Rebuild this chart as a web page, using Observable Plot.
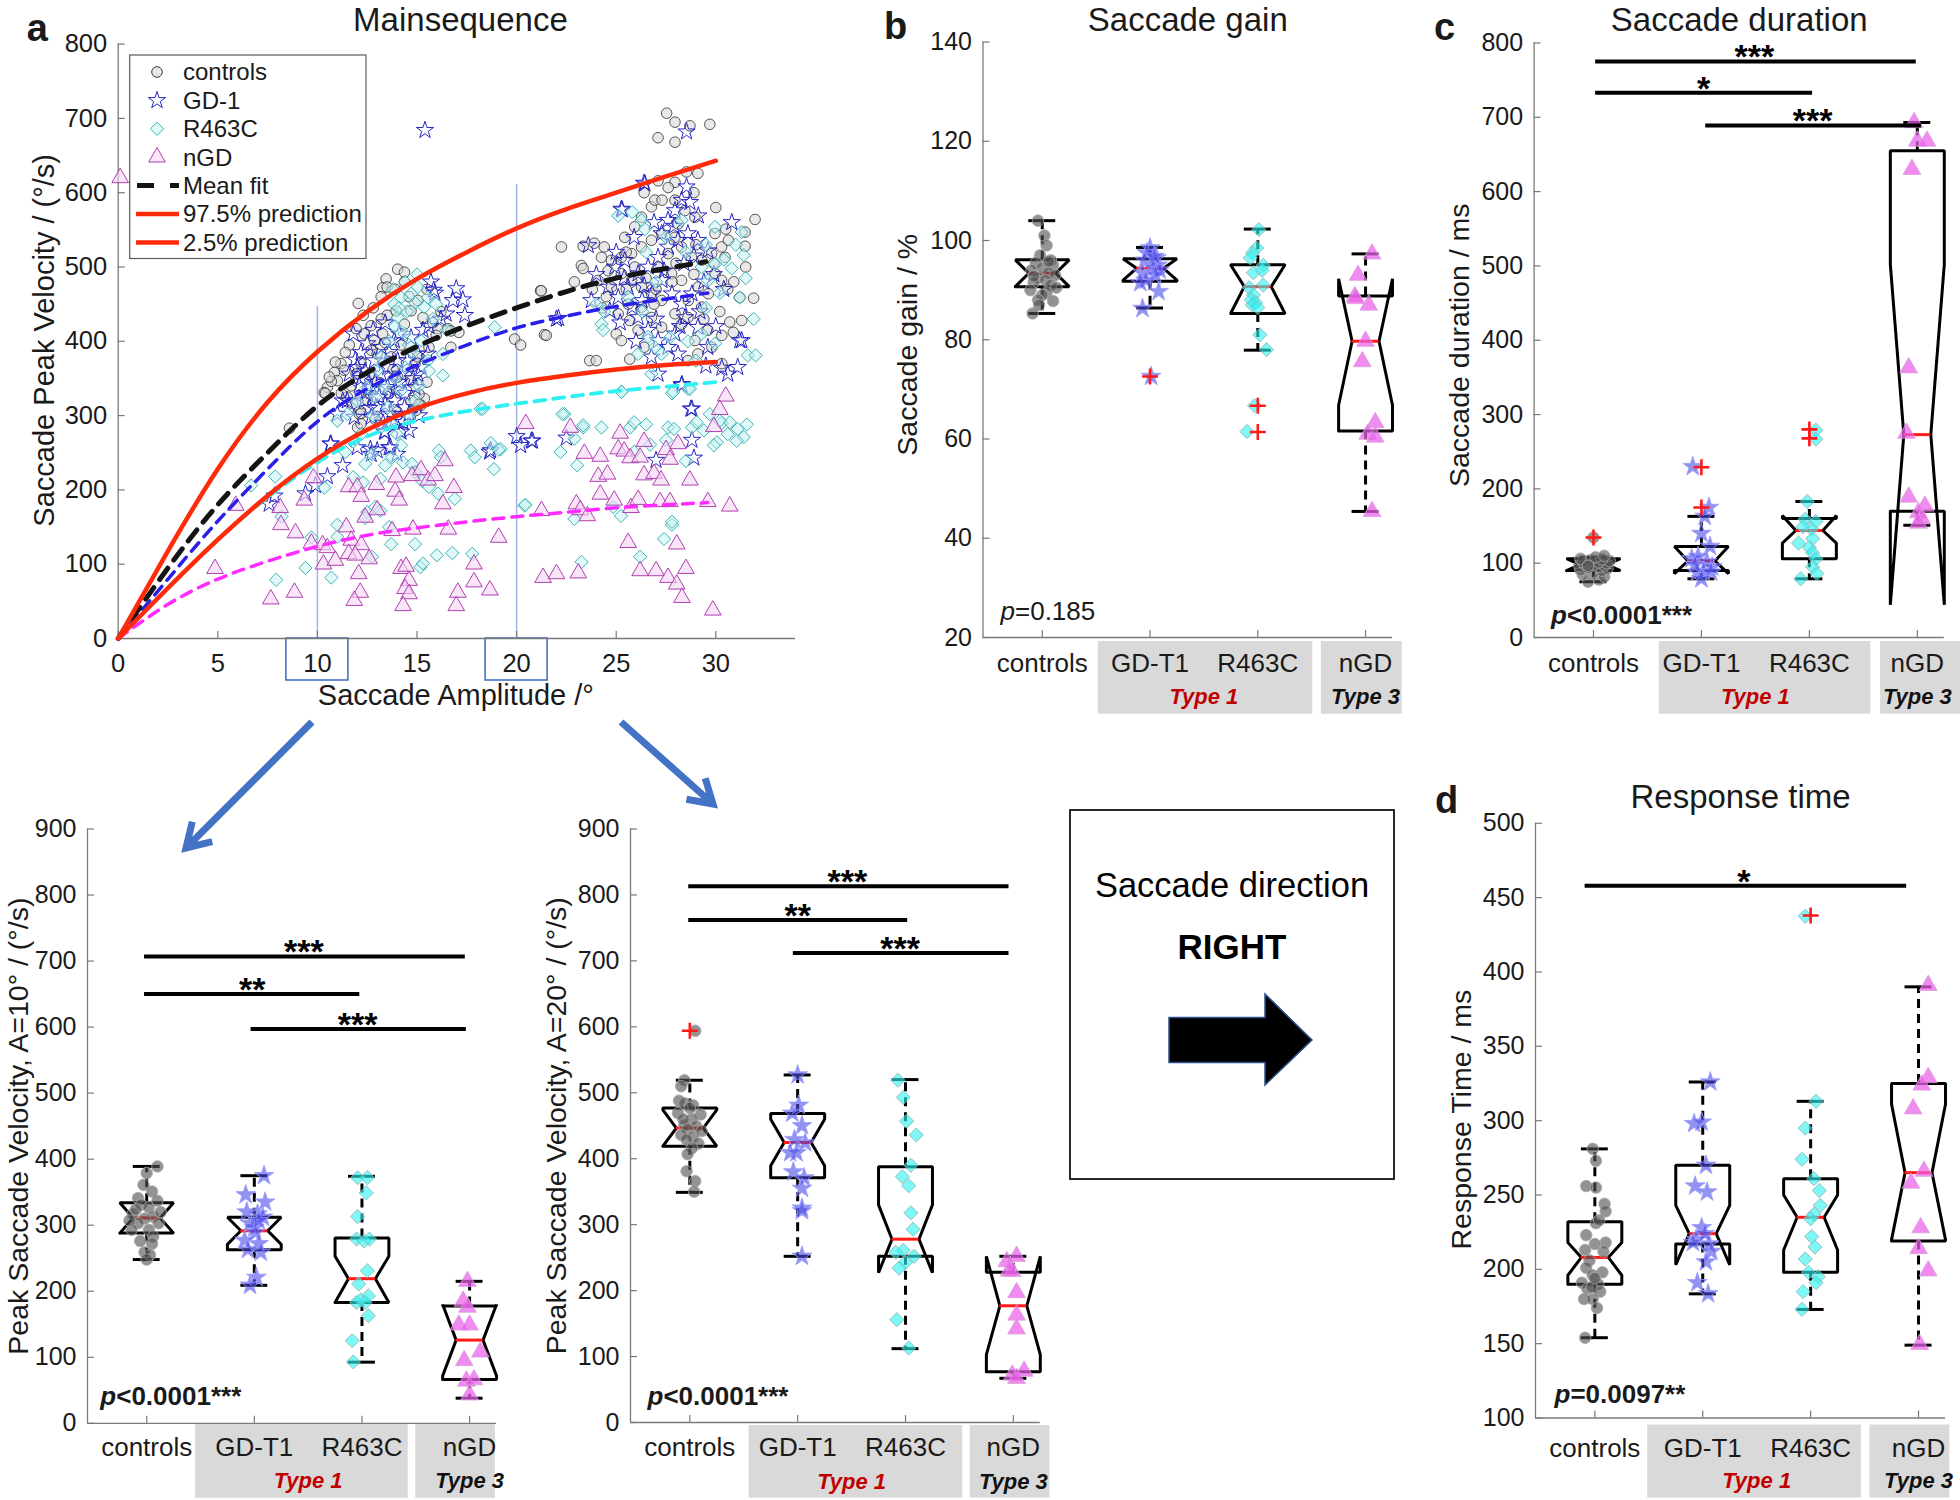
<!DOCTYPE html>
<html><head><meta charset="utf-8">
<script src="https://cdn.jsdelivr.net/npm/d3@7"></script>
<script src="https://cdn.jsdelivr.net/npm/@observablehq/plot@0.6"></script>
<style>
body{margin:0;background:#fff;}
#fig{position:relative;width:1960px;height:1500px;background:#fff;overflow:hidden;}
</style></head><body><div id="fig"></div>
<script>
// ================= DATA =================
const groups = ["controls", "GD-T1", "R463C", "nGD"];

// ---- Panel a: main sequence, [amplitude (deg), peak velocity (deg/s)] ----
const ampTicks = [0, 5, 10, 15, 20, 25, 30];
const velTicks = [0, 100, 200, 300, 400, 500, 600, 700, 800];
const ampMarkers = [[10, 447], [20, 611]];
const msControls = [[8.6,283],[12.05,451],[14.03,497],[14.37,493],[13.45,484],[13.28,472],[13.5,473],[14.37,480],[11.94,417],
[13.5,435],[13.2,430],[13.95,441],[12.7,421],[12.35,410],[12.86,401],[13.28,410],[15.3,432],[16.04,417],[16.55,417],[17.1,412],[16.7,392],[15.96,408],[15.6,392],
[11.18,370],[11.35,361],[10.85,358],[11.0,347],[10.5,338],[10.34,331],[11.94,356],[11.7,340],[12.19,370],[11.77,316],[12.1,302],[12.02,284],[12.19,289],
[15.37,323],[15.2,314],[14.95,307],[14.7,320],[15.1,329],[14.03,352],[14.7,347],[14.9,370],[12.7,388],[13.0,383],[13.7,379],[15.04,379],[14.37,423],[14.7,441],[15.04,455],
[15.1,315],[16.7,414],[19.9,403],[20.2,395],[21.2,468],[21.4,409],[12.5,321],[12.2,303],[10.7,346],[10.4,330],
[13.0,345],[13.6,330],[12.6,355],[14.2,395],[13.4,398],[11.5,325],[12.9,295],[14.0,305],[15.5,345],[13.8,362],
[11.6,395],[12.3,435],[12.8,445],[13.2,460],[13.9,470],[14.6,460],[15.5,470],[16.2,440],[15.8,425],[11.4,385],[10.9,372],[10.6,352],[11.2,330],
[27.53,707],[27.95,695],[28.7,690],[29.7,692],[27.1,674],[27.95,668],[28.53,628],[29.1,626],[27.95,614],[27.1,616],[31.97,564],[31.47,547],[31.47,528],[30.5,551],
[22.25,527],[23.34,528],[23.9,532],[24.4,527],[23.25,502],[23.34,498],[21.24,468],[21.49,408],
[31.2,459],[31.3,428],[30.7,426],[30.88,412],[30.3,408],[30.3,370],[23.67,374],[24.0,374],
[25.68,428],[25.0,410],[25.26,401],[25.68,376],[26.4,392],[26.1,415],[28.28,423],[28.95,401],[29.6,415],[29.8,392],[29.1,383],[28.6,374],
[24.26,513],[24.76,509],[25.26,513],[25.77,518],[26.27,527],[26.77,536],[27.28,545],[27.95,540],[28.28,527],[28.78,513],[29.29,509],[29.79,518],[30.29,527],[30.46,513],[29.96,491],[30.29,482],[29.62,464],[29.12,473],[28.62,455],[27.28,455],[26.77,464],[26.27,473],[25.77,482],[25.26,491],[24.76,473],[24.09,482],[24.59,495],[25.93,500],[25.43,540],[25.93,554],[26.27,567],[26.77,581],[27.61,607],[26.94,590],[27.95,590],[28.45,576],[28.95,567],[28.11,558],[29.96,545],[30.63,536],[27.61,518],[27.11,500],[27.78,491],[28.28,482],[26.27,446],[25.6,450],[25.1,437],[26.77,432],[27.28,419],[27.95,437],[28.6,432],[29.29,446],
[24.5,460],[25.5,470],[26.5,485],[27.0,470],[27.8,480],[28.9,490],[29.9,505],[30.9,480],[31.5,500],[30.2,440],[29.4,430],[26.9,450],[24.3,445],[23.8,470],[22.9,480],[28.0,505],[29.0,530],[30.0,580],[28.9,600],[27.3,590],[26.4,600],[25.5,520],[30.6,470],[31.9,458]];
const msGD1 = [[15.4,684],[28.53,682],[26.44,612],[28.53,608],[25.26,578],[28.7,587],[29.12,569],[30.8,560],[23.6,529],[22.0,430],[23.75,455],[24.68,441],[31.3,401],[31.1,365],[30.6,356],[29.5,367],[27.1,356],[28.28,341],[28.75,309],
[25.6,473],[26.1,491],[26.6,500],[27.1,513],[27.6,527],[28.1,536],[28.6,545],[29.1,536],[29.6,522],[27.3,482],[27.8,464],[28.3,450],[28.8,464],[26.8,464],[26.3,455],[25.8,446],[25.1,459],[24.6,473],[24.93,500],[25.43,509],[27.6,563],[27.95,576],[28.28,590],[27.28,545],[28.45,432],[27.95,410],[27.6,392],[28.1,383],[27.1,401],[26.6,415],[26.1,432],[29.1,419],[29.6,392],[26.77,379],
[25.3,577],[26.4,613],[22.1,431],
[24.0,490],[25.0,520],[25.9,540],[26.9,560],[27.9,555],[28.9,515],[29.9,490],[30.4,470],[29.4,480],[28.4,505],[27.4,495],[26.4,475],[25.4,485],[27.0,430],[28.2,420],[29.2,440],[30.0,420],[26.0,400],[25.2,425],
[15.7,480],[15.84,469],[16.97,471],[17.3,456],[17.4,435],[16.46,437],[15.54,383],[12.19,385],[11.6,356],[11.27,320],[11.0,302],[12.0,257],[10.68,262],[12.7,248],[13.36,278],[13.6,257],[14.0,248],[14.3,291],[18.64,251],[14.6,302],[15.04,383],
[12.5,397],[12.86,374],[13.2,356],[13.53,338],[13.86,320],[14.2,356],[14.5,374],[12.7,338],[12.35,320],[13.0,311],[13.7,302],[14.37,311],[14.9,338],[12.0,365],[15.04,356],[13.86,401],[13.53,365],[12.7,298],[11.85,298],[11.5,320],[13.2,392],[14.03,374],
[11.8,410],[12.2,350],[12.4,330],[12.9,345],[13.1,325],[13.4,315],[13.9,335],[14.1,345],[14.4,330],[14.8,350],[15.2,365],[12.6,310],[13.3,290],[13.9,295],[14.6,280],[15.1,300],[12.1,340],[13.6,385],[14.7,405],[15.3,415],[12.8,415],[13.4,425],[14.1,410],[11.9,375],[12.4,360],[15.6,420],[16.2,430],[16.8,455],[15.9,465],
[7.58,181],[7.85,192],[9.4,195],[9.9,206],[10.5,218],[11.27,233],[10.65,262],[12.66,255],[13.0,253],[13.67,257],[14.2,278],[13.4,278],[18.7,253],[20.0,272],[20.2,260],[20.8,266],
[28.3,342],[28.8,309],[28.8,267],[28.9,243],[27.0,240],[22.5,270],[20.74,266],[31.2,401],[30.3,364]];
const msR463C = [[14.2,459],[14.7,464],[15.04,473],[15.54,459],[15.96,450],[15.37,446],[13.86,450],[14.03,432],[14.37,410],[15.2,401],[15.54,374],[13.2,379],[13.0,361],[13.36,338],[14.2,334],[14.9,320],[13.53,311],[12.5,338],[12.0,320],[11.5,302],[11.0,293],[18.9,419],[16.3,383],[16.3,354],[18.2,309],[19.2,255],[14.5,440],[14.9,452],[13.9,420],[14.6,395],[12.8,300],[13.7,290],
[13.8,470],[14.4,480],[15.0,490],[14.1,445],[15.8,430],[16.5,415],[13.6,400],[14.8,385],[15.6,360],[14.4,365],[13.9,350],[15.1,340],[12.9,325],[14.6,300],[13.2,285],[12.2,275],[11.8,265],[14.0,275],
[6.67,206],[7.88,218],[8.2,164],[7.93,79],[9.4,95],[10.35,203],[10.7,82],[9.7,136],[11.0,153],[11.0,137],[11.4,251],[11.8,217],[12.3,210],[12.4,235],[12.74,248],[13.16,215],[13.4,233],[13.75,244],[14.2,260],[14.3,237],[14.75,235],[14.9,224],[15.26,212],[15.6,204],[16.1,253],[16.2,244],[16.06,195],[16.9,188],[17.7,253],[17.9,244],[18.7,263],[19.1,254],[18.86,228],[18.3,309],[12.5,170],[12.4,162],[12.9,177],[13.16,172],[13.6,150],[13.7,127],[14.9,127],[15.17,96],[15.3,101],[16.0,112],[16.77,115],[17.77,114],[12.74,110],[20.4,179],
[25.27,332],[27.8,330],[28.6,336],[22.4,302],[23.34,284],[22.9,269],[22.2,251],[23.04,233],[25.7,284],[25.9,291],[26.5,288],[27.6,284],[27.9,282],[26.7,261],[27.5,267],[25.9,251],[28.5,239],[28.8,284],[29.04,291],[29.4,280],[29.7,302],[30.3,290],[30.7,291],[31.1,282],[31.56,288],[31.4,271],[31.05,266],[30.6,275],[30.05,264],[29.9,260],[30.2,293],[20.44,180],[22.9,161],[23.26,103],[24.85,177],[25.24,165],[26.2,110],[27.4,134],[27.8,153],[27.8,157],
[25.1,569],[25.8,574],[26.27,563],[29.96,554],[31.3,547],[30.8,498],[31.2,459],[31.6,381],[24.26,423],[24.34,415],[26.44,551],[28.28,563],[29.29,500],[29.96,504],[29.62,482],[26.6,406],[26.94,392],[27.28,383],[26.1,383],[29.29,410],[29.96,397],[29.0,374],[26.77,356],[25.26,332],[27.86,332],[28.7,336],[22.3,302],[23.34,287],[24.26,284],[32.0,381],[31.4,516],
[24.4,440],[25.6,460],[26.5,520],[27.5,540],[28.5,520],[29.5,530],[30.4,510],[31.0,530],[30.2,465],[29.5,445],[28.6,400],[27.7,405],[26.3,440],[27.0,480],[24.0,450],[31.5,485],[31.9,430]];
const msNGD = [[0.1,620],[4.86,94],[5.9,179],[7.66,53],[8.85,62],[8.13,176],[8.17,153],[8.9,142],[9.34,186],[9.8,216],[9.7,128],[10.26,126],[10.5,122],[10.3,100],[10.9,105],[11.45,150],[11.7,132],[12.2,126],[11.57,114],[11.9,112],[12.6,107],[11.57,204],[12.0,204],[12.2,191],[12.96,207],[12.07,87],[12.15,62],[11.85,51],[12.4,163],[13.0,173],[13.95,217],[13.9,198],[14.1,186],[13.75,145],[14.2,94],[14.45,97],[14.6,78],[14.4,67],[14.6,60],[14.3,44],[14.8,147],[14.75,219],[15.2,227],[15.56,213],[15.9,219],[16.4,239],[16.3,181],[16.85,203],[16.57,147],[17.05,62],[16.97,44],[17.86,100],[17.86,76],[18.66,65],[19.1,136],[20.46,289],
[30.5,326],[30.2,308],[29.9,285],[22.7,284],[23.4,249],[24.2,245],[24.1,218],[24.56,221],[24.2,194],[25.2,276],[25.1,255],[25.4,252],[25.7,243],[26.2,244],[26.4,265],[26.4,220],[26.9,222],[27.25,213],[27.5,254],[27.7,241],[28.1,262],[28.7,213],
[21.25,172],[23.0,181],[23.2,173],[23.55,165],[24.9,186],[25.74,176],[26.1,187],[27.2,184],[27.7,184],[29.6,184],[30.7,178],[25.6,129],[28.04,127],[21.33,82],[22.0,87],[23.1,88],[26.2,91],[27.0,91],[27.6,82],[28.04,73],[28.5,94],[28.3,55],[29.85,38]];
const fitMean = [[0,0],[2.5,95],[5,180],[7.5,250],[10,313],[12.5,358],[15,393],[17.5,421],[20,445],[22.5,467],[25,485],[27.5,498],[29.5,507]];
const fitGD1 = [[0,0],[2.5,80],[5,158],[7.5,228],[10,292],[12.5,336],[15,368],[17.5,395],[20,418],[22.5,434],[25,447],[27.5,457],[29.6,465]];
const fitR463C = [[0,0],[2.5,68],[5,133],[7.5,190],[10,237],[12.5,272],[15,293],[17.5,306],[20,316],[22.5,325],[25,333],[27.5,339],[30,345]];
const fitNGD = [[0,0],[2.5,46],[5,80],[7.5,104],[10,124],[12.5,139],[15,149],[17.5,157],[20,164],[22.5,170],[25,176],[27.5,180],[29.6,183]];
const pred975 = [[0,0],[2.5,118],[5,228],[7.5,318],[10,386],[12.5,440],[15,484],[17.5,520],[20,552],[22.5,578],[25,600],[27.5,622],[30,643]];
const pred025 = [[0,0],[2.5,68],[5,133],[7.5,192],[10,242],[12.5,281],[15,310],[17.5,330],[20,344],[22.5,354],[25,362],[27.5,368],[30,372]];

// ---- Box panels: per group [q1, median, q3, notchLo, notchHi, whiskerLo, whiskerHi] ----
// points: [group, jitter, value]; outliers: [group, value]; significance: [from, to, level, stars, starX]
const gainTicks = [20, 40, 60, 80, 100, 120, 140];
const gainBox = [[90.7,93.4,96.1,90.7,96.1,85.3,104],[91.8,94.4,96.3,92.0,96.3,86.4,98.6],[85.3,90.7,95.1,85.4,95.0,77.9,102.3],[61.6,79.7,88.8,66.8,92.3,45.4,97.3]];
const gainPts = [[1,-0.04,104],[1,0.02,101],[1,0.04,99],[1,-0.02,97],[1,0.08,96],[1,-0.06,95.5],[1,0.1,95],[1,0,94.5],[1,-0.1,94],[1,0.06,93.5],[1,0.12,93],[1,-0.04,92.5],[1,0.03,92],[1,-0.08,91.5],[1,0.08,91],[1,0.13,90.5],[1,-0.11,90],[1,0.04,89.5],[1,0,89],[1,-0.04,88],[1,0.1,87.8],[1,-0.03,87],[1,-0.09,85.3],[1,0.06,95.8],[1,-0.08,92.8],
[2,0,98.5],[2,-0.03,97.5],[2,0.06,96.5],[2,-0.05,96],[2,0.07,95],[2,0.03,94.5],[2,0.09,94],[2,-0.07,93.5],[2,0.05,93],[2,-0.04,92],[2,-0.09,91.5],[2,0.08,89.7],[2,-0.07,86.3],[2,0.01,72.6],[2,0.04,96.8],
[3,0.01,102.2],[3,-0.01,98.5],[3,-0.05,97.5],[3,-0.07,96.5],[3,0.05,95],[3,-0.04,93.5],[3,0.04,94],[3,0.05,91],[3,-0.08,90.5],[3,-0.04,89],[3,-0.06,88],[3,-0.02,87.5],[3,-0.05,87],[3,0.02,81],[3,0.08,78],[3,-0.03,66.7],[3,-0.1,61.5],[3,0,86.5],
[4,0.06,97.3],[4,-0.07,93],[4,-0.1,88.7],[4,-0.09,88.3],[4,0.03,87],[4,0,79.7],[4,-0.03,75.6],[4,0.09,63.3],[4,0.02,61],[4,0.09,60.4],[4,0.06,45.4]];
const gainOut = [[2,72.6],[3,66.7],[3,61.4]];
const gainSig = [];

const durTicks = [0, 100, 200, 300, 400, 500, 600, 700, 800];
const durBox = [[90,98,106,90,106,75,108],[90,103,122.5,86,122.5,79,163],[106,144,160,127,164,79,183],[170,273,655,44,502,151,693]];
const durPts = [[1,-0.05,75],[1,0.05,78],[1,0.1,82],[1,-0.1,85],[1,0,88],[1,0.08,90],[1,-0.12,91],[1,0.13,93],[1,-0.05,94],[1,0.05,95],[1,-0.13,96],[1,0.1,97],[1,0,98],[1,-0.08,99],[1,0.12,100],[1,0.05,101],[1,-0.1,102],[1,0.15,103],[1,-0.03,104],[1,0.08,105],[1,-0.12,106],[1,0.02,108],[1,0.1,110],[1,-0.05,96.5],[1,0,134.6],
[2,-0.08,230],[2,0.07,175],[2,0.03,163],[2,0,140],[2,0.08,122.5],[2,-0.09,106],[2,-0.03,109],[2,0.05,102],[2,0.1,95],[2,0.02,89],[2,-0.04,88],[2,0.09,88],[2,0,79],[2,-0.06,98],
[3,0.06,279],[3,0.06,267],[3,-0.02,183],[3,-0.04,159],[3,0.06,156],[3,0.02,146],[3,-0.06,149],[3,0.03,133],[3,-0.1,127],[3,0,121],[3,0.03,114],[3,0.06,106],[3,0.03,95],[3,0.07,86],[3,-0.08,79],
[4,-0.03,693],[4,0,668],[4,0.09,668],[4,-0.05,630],[4,-0.08,363],[4,-0.1,275],[4,-0.08,189],[4,0.07,177],[4,0.01,168],[4,0.04,160],[4,0.01,154]];
const durOut = [[1,134.6],[2,229],[2,175],[3,280],[3,268]];
const durSig = [[1.02,3.99,775,"***",2.49],[1.02,3.03,733,"*",2.02],[2.04,4.04,689,"***",3.03]];

const v10Ticks = [0, 100, 200, 300, 400, 500, 600, 700, 800, 900];
const v10Box = [[288,311,334,288,334,248,389],[263,291.5,312,271,312,209,375],[183,219,280.6,183,253,92.6,374],[66.5,126,177.7,72,180,38,215]];
const v10Pts = [[1,0.1,389],[1,0,379],[1,-0.03,361],[1,0.05,351],[1,-0.08,341],[1,0.1,337],[1,-0.05,331],[1,0.02,327],[1,-0.13,317],[1,0.06,313],[1,-0.02,310],[1,-0.08,303],[1,0.11,303],[1,-0.14,293],[1,0.02,293],[1,0.06,283],[1,-0.06,276],[1,0.05,272],[1,-0.02,259],[1,0.03,255],[1,0,248],[1,-0.1,324],[1,0.13,320],[1,-0.16,307],
[2,0.09,375],[2,-0.08,346],[2,0.1,335],[2,-0.07,320],[2,0.03,317],[2,0.08,312],[2,0,296],[2,-0.04,303],[2,0.01,289],[2,-0.09,277],[2,0.04,272],[2,-0.06,263],[2,0.06,259],[2,0.02,221],[2,-0.04,209],[2,0.04,307],
[3,-0.04,372],[3,0.05,372],[3,0.04,349],[3,-0.04,313],[3,-0.05,279],[3,0.02,276],[3,0.07,279],[3,0.05,231],[3,-0.03,211],[3,0.06,193],[3,-0.01,187],[3,-0.05,183],[3,0.06,163],[3,-0.09,125],[3,-0.08,93],[3,0.03,183],
[4,-0.02,215],[4,-0.06,185],[4,-0.02,176],[4,-0.1,149],[4,0,149],[4,0.1,108],[4,-0.05,95],[4,-0.03,64],[4,0.04,66],[4,0,43]];
const v10Out = [];
const v10Sig = [[0.98,3.96,707,"***",2.46],[0.98,2.98,650,"**",1.98],[1.97,3.97,597,"***",2.96]];

const v20Ticks = [0, 100, 200, 300, 400, 500, 600, 700, 800, 900];
const v20Box = [[419,446.5,477,419,474,349,519],[371,424.6,468.5,389.5,460,252,527],[252,278,388,227,330,112,520],[77,177,228,103,252,67,252]];
const v20Pts = [[1,0.05,594],[1,-0.05,519],[1,-0.08,510],[1,-0.1,488],[1,-0.05,484],[1,0.03,481],[1,0,477],[1,0.1,467],[1,-0.11,469],[1,0.02,460],[1,-0.05,451],[1,0.06,449],[1,-0.02,445],[1,-0.08,436],[1,0.03,433],[1,-0.03,429],[1,0.08,423],[1,0.02,416],[1,-0.02,407],[1,-0.03,381],[1,0.05,366],[1,0.04,350],[1,-0.06,460],[1,0.11,442],
[2,0,527],[2,0.01,481],[2,-0.05,469],[2,0.04,450],[2,-0.03,429],[2,0.07,424],[2,-0.07,409],[2,-0.01,409],[2,-0.04,380],[2,0.06,371],[2,0.04,355],[2,0.04,325],[2,0.04,321],[2,0.04,252],
[3,-0.07,519],[3,-0.02,493],[3,0.01,457],[3,0.1,436],[3,0.05,390],[3,-0.03,373],[3,0.03,359],[3,0.05,318],[3,0.07,293],[3,-0.02,261],[3,0.08,252],[3,-0.09,258],[3,0,243],[3,-0.06,234],[3,-0.08,156],[3,0.03,113],
[4,0.03,252],[4,-0.06,244],[4,-0.01,229],[4,0.03,197],[4,0.03,163],[4,0.03,142],[4,-0.01,72],[4,0.1,78],[4,0.03,67],[4,-0.04,230]];
const v20Out = [[1,594]];
const v20Sig = [[0.99,3.96,813,"***",2.46],[0.99,3.02,762,"**",2.0],[1.96,3.96,712,"***",2.95]];

const rtTicks = [100, 150, 200, 250, 300, 350, 400, 450, 500];
const rtBox = [[190,208,232,196,218,154,281],[217,224,270,203,243,183.5,326],[198,235,261,213,250,173,313],[219,265,325,220,311,149,390]];
const rtPts = [[1,-0.02,281],[1,0.01,273],[1,-0.08,256],[1,0.01,255],[1,0.09,244],[1,0.1,239],[1,0.01,231],[1,0.04,233],[1,-0.08,223],[1,0.1,218],[1,0,217],[1,-0.09,213],[1,0.08,212],[1,-0.05,206],[1,-0.08,201],[1,0.07,198],[1,-0.02,196],[1,-0.12,191],[1,0.03,190],[1,-0.07,187],[1,0.05,185],[1,-0.1,180],[1,-0.02,180],[1,0.02,174],[1,-0.09,154],[1,-0.03,188],[1,0,194],
[2,0.07,326],[2,-0.08,298],[2,-0.01,299],[2,0.03,270],[2,-0.07,256],[2,0.04,252],[2,-0.01,228],[2,-0.06,220],[2,0.06,217],[2,0.08,212],[2,0.03,205],[2,-0.05,191],[2,0.05,183.5],[2,-0.09,218],[2,0.02,224],
[3,-0.05,437.5],[3,0.05,313],[3,-0.05,295],[3,-0.08,274],[3,0.03,261],[3,0.08,253],[3,0.09,243],[3,0.03,237],[3,0,234],[3,0.01,222],[3,0.04,215],[3,-0.05,207],[3,-0.02,198],[3,0.07,195],[3,0.05,191],[3,-0.07,185],[3,-0.08,173],
[4,0.09,391],[4,0.09,329],[4,0.03,324],[4,-0.05,308],[4,0.05,266],[4,-0.07,258],[4,0.02,228],[4,0,214],[4,0.09,199],[4,0.01,149.5]];
const rtOut = [[3,438]];
const rtSig = [[0.91,3.89,458,"*",2.38]];

// ================= STYLE / LAYOUT =================
const FONT = '"Liberation Sans", Arial, Helvetica, sans-serif';
const TXT = "#1a1a1a", AXIS = "#7a7a7a";
const boxSym = [
  {symbol: "circle", fill: "#505050", fillOpacity: 0.62, stroke: "#a8a8a8", r: 5.8},
  {symbol: "star", fill: "#4a4ae8", fillOpacity: 0.6, stroke: "#9a9aff", r: 6.2},
  {symbol: "diamond2", fill: "#2ef2f2", fillOpacity: 0.62, stroke: "#8fb0b0", r: 6.4},
  {symbol: "triangle", fill: "#ea5fea", fillOpacity: 0.72, stroke: "#dca0dc", r: 6.6}
];
const msSym = [
  {symbol: "circle", fill: "#d5d5d5", fillOpacity: 0.55, stroke: "#383838", strokeOpacity: 0.85, r: 5.3},
  {symbol: "star", fill: "none", stroke: "#2424c4", r: 5.4},
  {symbol: "diamond2", fill: "#c4f2f2", fillOpacity: 0.5, stroke: "#3db4b4", r: 6},
  {symbol: "triangle", fill: "#f3d3f3", fillOpacity: 0.6, stroke: "#b040b0", r: 6.2}
];
const fig = document.getElementById("fig");

function place(svg, left, top) {
  svg.style.position = "absolute";
  svg.style.left = left + "px";
  svg.style.top = top + "px";
  svg.style.background = "transparent";
  svg.style.maxWidth = "none";
  fig.appendChild(svg);
}
const txt = (s, o) => Plot.text([s], {text: d => d, fill: TXT, textAnchor: "middle", lineAnchor: "middle", ...o});

function boxPanel(o, box, pts, outl, sig, ticks) {
  const X0 = 0.45, X1 = 4.25;
  const [Y0, Y1] = o.yDomain;
  const fw = o.width - o.mL - o.mR, fh = o.height - o.mT - o.mB;
  const pxX = fw / (X1 - X0), pxY = fh / (Y1 - Y0);
  const below = px => Y0 - px / pxY;
  const BW = 0.5, IN = BW / 4, CAP = BW / 4;
  const B = box.map((b, i) => ({g: i + 1, q1: b[0], med: b[1], q3: b[2], nlo: b[3], nhi: b[4], wlo: b[5], whi: b[6]}));
  const outline = B.flatMap(b => {
    const L = b.g - BW / 2, R = b.g + BW / 2;
    return [[L,b.q1],[L,b.nlo],[L+IN,b.med],[L,b.nhi],[L,b.q3],[R,b.q3],[R,b.nhi],[R-IN,b.med],[R,b.nlo],[R,b.q1],[L,b.q1]]
      .map(([x, y]) => ({g: b.g, x, y}));
  });
  const marks = [
    Plot.rect(o.gray, {x1: d => d[0], x2: d => d[1], y1: () => below(o.grayTop), y2: () => below(o.grayBot), fill: "#d9d9d9"}),
    Plot.ruleX([X0], {stroke: AXIS, strokeWidth: 1.3}),
    Plot.ruleY([Y0], {stroke: AXIS, strokeWidth: 1.3}),
    Plot.ruleY(ticks, {x1: () => X0, x2: () => X0 + 7 / pxX, stroke: AXIS, strokeWidth: 1.2}),
    Plot.ruleX([1, 2, 3, 4], {y1: () => Y0, y2: () => Y0 + 7 / pxY, stroke: AXIS, strokeWidth: 1.2}),
    Plot.text(ticks, {x: () => X0, y: d => d, text: d => String(d), textAnchor: "end", dx: -11, fontSize: 25, fill: TXT}),
    Plot.text(groups, {x: (d, i) => i + 1, y: () => Y0, dy: o.catDy, text: d => d, fontSize: 26, fill: TXT}),
    Plot.text(["Type 1"], {x: () => 2.5, y: () => Y0, dy: o.typeDy, text: d => d, fontSize: 22, fontWeight: "bold", fontStyle: "italic", fill: "#c00000"}),
    Plot.text(["Type 3"], {x: () => 4, y: () => Y0, dy: o.typeDy, text: d => d, fontSize: 22, fontWeight: "bold", fontStyle: "italic", fill: "#111"}),
    Plot.ruleX(B, {x: "g", y1: "q3", y2: "whi", stroke: "#000", strokeWidth: 3, strokeDasharray: "9,6"}),
    Plot.ruleX(B, {x: "g", y1: "q1", y2: "wlo", stroke: "#000", strokeWidth: 3, strokeDasharray: "9,6"}),
    Plot.ruleY(B, {y: "whi", x1: d => d.g - CAP, x2: d => d.g + CAP, stroke: "#000", strokeWidth: 3}),
    Plot.ruleY(B, {y: "wlo", x1: d => d.g - CAP, x2: d => d.g + CAP, stroke: "#000", strokeWidth: 3}),
    Plot.line(outline, {x: "x", y: "y", z: "g", stroke: "#000", strokeWidth: 3, strokeLinejoin: "miter"}),
    Plot.ruleY(B, {y: "med", x1: d => d.g - BW / 2 + IN, x2: d => d.g + BW / 2 - IN, stroke: "#ff1a1a", strokeWidth: 3}),
  ];
  boxSym.forEach((s, gi) => {
    marks.push(Plot.dot(pts.filter(p => p[0] === gi + 1), {x: p => p[0] + p[1], y: p => p[2], strokeWidth: 0.8, ...s}));
  });
  marks.push(Plot.dot(outl, {x: d => d[0], y: d => d[1], symbol: "plus", stroke: "#ff1a1a", strokeWidth: 2.6, r: 5.2}));
  marks.push(Plot.ruleY(sig, {y: d => d[2], x1: d => d[0], x2: d => d[1], stroke: "#000", strokeWidth: 4}));
  marks.push(Plot.text(sig, {x: d => d[4], y: d => d[2], text: d => d[3], fontSize: 34, fontWeight: "bold", dy: o.starDy, fill: "#000"}));
  const pw = o.p.bold ? 15.9 : 14.5;
  marks.push(txt("p", {frameAnchor: "bottom-left", dx: o.p.dx, dy: o.p.dy, textAnchor: "start", fontSize: 26, fontStyle: "italic", fontWeight: o.p.bold ? "bold" : "normal"}));
  marks.push(txt(o.p.rest, {frameAnchor: "bottom-left", dx: o.p.dx + pw, dy: o.p.dy, textAnchor: "start", fontSize: 26, fontWeight: o.p.bold ? "bold" : "normal"}));
  marks.push(txt(o.ylabel, {frameAnchor: "left", rotate: -90, dx: o.ylabelDx, dy: o.ylabelDy, fontSize: 28.5}));
  if (o.title) marks.push(txt(o.title, {frameAnchor: "top", dy: o.titleDy, fontSize: 33}));
  if (o.letter) marks.push(txt(o.letter, {frameAnchor: "top-left", dx: o.letterDx, dy: o.letterDy, fontSize: 38, fontWeight: "bold"}));
  const svg = Plot.plot({
    width: o.width, height: o.height,
    marginLeft: o.mL, marginRight: o.mR, marginTop: o.mT, marginBottom: o.mB,
    x: {domain: [X0, X1], axis: null},
    y: {domain: [Y0, Y1], axis: null},
    style: {fontFamily: FONT, background: "transparent", overflow: "visible"},
    marks
  });
  place(svg, o.left, o.top);
}

function panelA() {
  const o = {left: 0, top: 0, width: 840, height: 730, mL: 117.7, mT: 43.6, mR: 45, mB: 92};
  const X0 = 0, X1 = 34, Y0 = 0, Y1 = 800;
  const fw = o.width - o.mL - o.mR, fh = o.height - o.mT - o.mB;
  const pxX = fw / (X1 - X0), pxY = fh / (Y1 - Y0);
  const hl = [10, 20];
  const series = [msControls, msGD1, msR463C, msNGD];
  const ln = (data, stroke, w, dash) => Plot.line(data, {x: d => d[0], y: d => d[1], stroke, strokeWidth: w, strokeDasharray: dash, curve: "natural"});
  const marks = [
    Plot.rect(hl, {x1: d => d - 31 / pxX, x2: d => d + 31 / pxX, y1: () => 0, y2: () => -42 / pxY, stroke: "#4472c4", strokeWidth: 1.6, fill: "none"}),
    Plot.ruleX(ampMarkers, {x: d => d[0], y1: () => 0, y2: d => d[1], stroke: "#9fb6e3", strokeWidth: 1.5}),
    Plot.ruleX([X0], {stroke: AXIS, strokeWidth: 1.3}),
    Plot.ruleY([Y0], {stroke: AXIS, strokeWidth: 1.3}),
    Plot.ruleY(velTicks, {x1: () => X0, x2: () => X0 + 7 / pxX, stroke: AXIS, strokeWidth: 1.2}),
    Plot.ruleX(ampTicks, {y1: () => Y0, y2: () => Y0 + 7 / pxY, stroke: AXIS, strokeWidth: 1.2}),
    Plot.text(velTicks, {x: () => X0, y: d => d, text: d => String(d), textAnchor: "end", dx: -11, fontSize: 25.5, fill: TXT}),
    Plot.text(ampTicks, {x: d => d, y: () => Y0, text: d => String(d), dy: 25, fontSize: 25.5, fill: TXT}),
  ];
  msSym.forEach((s, i) => marks.push(Plot.dot(series[i], {x: d => d[0], y: d => d[1], strokeWidth: 1, ...s})));
  marks.push(
    ln(fitNGD, "#ff2bff", 3.5, "11,8"),
    ln(fitR463C, "#2ef0f0", 3.8, "11,8"),
    ln(fitGD1, "#2a1fe8", 3.5, "11,8"),
    ln(fitMean, "#141414", 5, "14,10"),
    ln(pred975, "#ff2a0a", 4.5, null),
    ln(pred025, "#ff2a0a", 4.5, null),
    txt("Mainsequence", {frameAnchor: "top", dx: 3.6, dy: -23.6, fontSize: 33}),
    txt("a", {frameAnchor: "top-left", dx: -81, dy: -15, fontSize: 38, fontWeight: "bold"}),
    txt("Saccade Peak Velocity / (°/s)", {frameAnchor: "left", rotate: -90, dx: -73, dy: -1, fontSize: 29}),
    txt("Saccade Amplitude /°", {frameAnchor: "bottom", dx: -1, dy: 57, fontSize: 29})
  );
  const svg = Plot.plot({
    width: o.width, height: o.height,
    marginLeft: o.mL, marginRight: o.mR, marginTop: o.mT, marginBottom: o.mB,
    x: {domain: [X0, X1], axis: null},
    y: {domain: [Y0, Y1], axis: null},
    style: {fontFamily: FONT, background: "transparent", overflow: "visible"},
    marks
  });
  place(svg, o.left, o.top);
}

panelA();
boxPanel({left: 870, top: 0, width: 540, height: 740, mL: 112.5, mT: 41.5, mR: 18, mB: 103, yDomain: [20, 140],
  title: "Saccade gain", titleDy: -21.5, letter: "b", letterDx: -87.5, letterDy: -15, ylabel: "Saccade gain / %", ylabelDx: -75, ylabelDy: 5,
  gray: [[1.52, 3.51], [3.59, 4.34]], grayTop: 4, grayBot: 76.7, catDy: 26, typeDy: 59, starDy: -4,
  p: {rest: "=0.185", bold: false, dx: 17.5, dy: -25.7}}, gainBox, gainPts, gainOut, gainSig, gainTicks);
boxPanel({left: 1420, top: 0, width: 540, height: 740, mL: 113.6, mT: 42.5, mR: 16.2, mB: 103, yDomain: [0, 800],
  title: "Saccade duration", titleDy: -22.5, letter: "c", letterDx: -89.6, letterDy: -15, ylabel: "Saccade duration / ms", ylabelDx: -74, ylabelDy: 5,
  gray: [[1.61, 3.57], [3.66, 4.41]], grayTop: 4, grayBot: 76.7, catDy: 26, typeDy: 59, starDy: -4,
  p: {rest: "<0.0001***", bold: true, dx: 17, dy: -21.4}}, durBox, durPts, durOut, durSig, durTicks);
boxPanel({left: 0, top: 770, width: 530, height: 730, mL: 87, mT: 58.5, mR: 34, mB: 77.2, yDomain: [0, 900],
  title: null, letter: null, ylabel: "Peak Saccade Velocity, A=10° / (°/s)", ylabelDx: -69, ylabelDy: 0,
  gray: [[1.455, 3.43], [3.5, 4.24]], grayTop: 1.2, grayBot: 75, catDy: 24.5, typeDy: 58, starDy: -4,
  p: {rest: "<0.0001***", bold: true, dx: 12.8, dy: -26.2}}, v10Box, v10Pts, v10Out, v10Sig, v10Ticks);
boxPanel({left: 530, top: 770, width: 530, height: 730, mL: 100, mT: 58.5, mR: 20.2, mB: 78, yDomain: [0, 900],
  title: null, letter: null, ylabel: "Peak Saccade Velocity, A=20° / (°/s)", ylabelDx: -74, ylabelDy: 0,
  gray: [[1.55, 3.53], [3.6, 4.34]], grayTop: 3, grayBot: 75.6, catDy: 25, typeDy: 59, starDy: -4,
  p: {rest: "<0.0001***", bold: true, dx: 17, dy: -25.4}}, v20Box, v20Pts, v20Out, v20Sig, v20Ticks);
boxPanel({left: 1420, top: 760, width: 540, height: 740, mL: 115, mT: 62.8, mR: 15, mB: 82.5, yDomain: [100, 500],
  title: "Response time", titleDy: -25.8, letter: "d", letterDx: -89, letterDy: -22.8, ylabel: "Response Time / ms", ylabelDx: -74, ylabelDy: -1,
  gray: [[1.49, 3.47], [3.55, 4.29]], grayTop: 7, grayBot: 80, catDy: 30.5, typeDy: 63.3, starDy: -4,
  p: {rest: "=0.0097**", bold: true, dx: 19, dy: -23}}, rtBox, rtPts, rtOut, rtSig, rtTicks);

// ================= overlay: legend, arrows, direction box =================
(function overlay() {
  const svg = d3.create("svg").attr("width", 1960).attr("height", 1500)
    .style("position", "absolute").style("left", "0px").style("top", "0px").style("font-family", FONT);
  const sym = {circle: d3.symbolCircle, star: d3.symbolStar, diamond2: d3.symbolDiamond2, triangle: d3.symbolTriangle};
  const lg = svg.append("g");
  lg.append("rect").attr("x", 129.7).attr("y", 55).attr("width", 236.3).attr("height", 203.5).attr("fill", "#fff").attr("stroke", "#5a5a5a").attr("stroke-width", 1.2);
  const labels = ["controls", "GD-1", "R463C", "nGD", "Mean fit", "97.5% prediction", "2.5% prediction"];
  const ys = [72, 100.4, 128.8, 157.2, 185.6, 214, 242.4];
  msSym.forEach((s, i) => {
    lg.append("path").attr("d", d3.symbol(sym[s.symbol], Math.PI * s.r * s.r)()).attr("transform", `translate(157,${ys[i]})`)
      .attr("fill", s.fill).attr("fill-opacity", s.fillOpacity ?? 1).attr("stroke", s.stroke).attr("stroke-width", 1);
  });
  lg.append("line").attr("x1", 137).attr("x2", 179).attr("y1", ys[4]).attr("y2", ys[4]).attr("stroke", "#141414").attr("stroke-width", 5).attr("stroke-dasharray", "17,16");
  lg.append("line").attr("x1", 136).attr("x2", 179).attr("y1", ys[5]).attr("y2", ys[5]).attr("stroke", "#ff2a0a").attr("stroke-width", 4.5);
  lg.append("line").attr("x1", 136).attr("x2", 179).attr("y1", ys[6]).attr("y2", ys[6]).attr("stroke", "#ff2a0a").attr("stroke-width", 4.5);
  labels.forEach((t, i) => lg.append("text").attr("x", 183).attr("y", ys[i]).attr("dy", "0.35em").attr("font-size", 24).attr("fill", TXT).text(t));
  const arrow = (x1, y1, x2, y2) => {
    const a = Math.atan2(y2 - y1, x2 - x1), L = 27, s = 0.55;
    const p = `M${x1},${y1}L${x2},${y2}M${x2 - L * Math.cos(a - s)},${y2 - L * Math.sin(a - s)}L${x2},${y2}L${x2 - L * Math.cos(a + s)},${y2 - L * Math.sin(a + s)}`;
    svg.append("path").attr("d", p).attr("fill", "none").attr("stroke", "#4472c4").attr("stroke-width", 7).attr("stroke-linecap", "butt").attr("stroke-linejoin", "miter");
  };
  arrow(312, 722, 186, 848);
  arrow(621, 722, 713, 804);
  svg.append("rect").attr("x", 1070).attr("y", 810).attr("width", 324).attr("height", 369).attr("fill", "#fff").attr("stroke", "#111").attr("stroke-width", 1.8);
  svg.append("text").attr("x", 1232).attr("y", 885).attr("dy", "0.35em").attr("text-anchor", "middle").attr("font-size", 34.5).attr("fill", "#000").text("Saccade direction");
  svg.append("text").attr("x", 1232).attr("y", 947).attr("dy", "0.35em").attr("text-anchor", "middle").attr("font-size", 35).attr("font-weight", "bold").attr("fill", "#000").text("RIGHT");
  svg.append("path").attr("d", "M1169,1017.5L1265,1017.5L1265,994L1312,1040L1265,1085L1265,1062.5L1169,1062.5Z")
    .attr("fill", "#000").attr("stroke", "#2f528f").attr("stroke-width", 1.5);
  fig.appendChild(svg.node());
})();
</script></body></html>
